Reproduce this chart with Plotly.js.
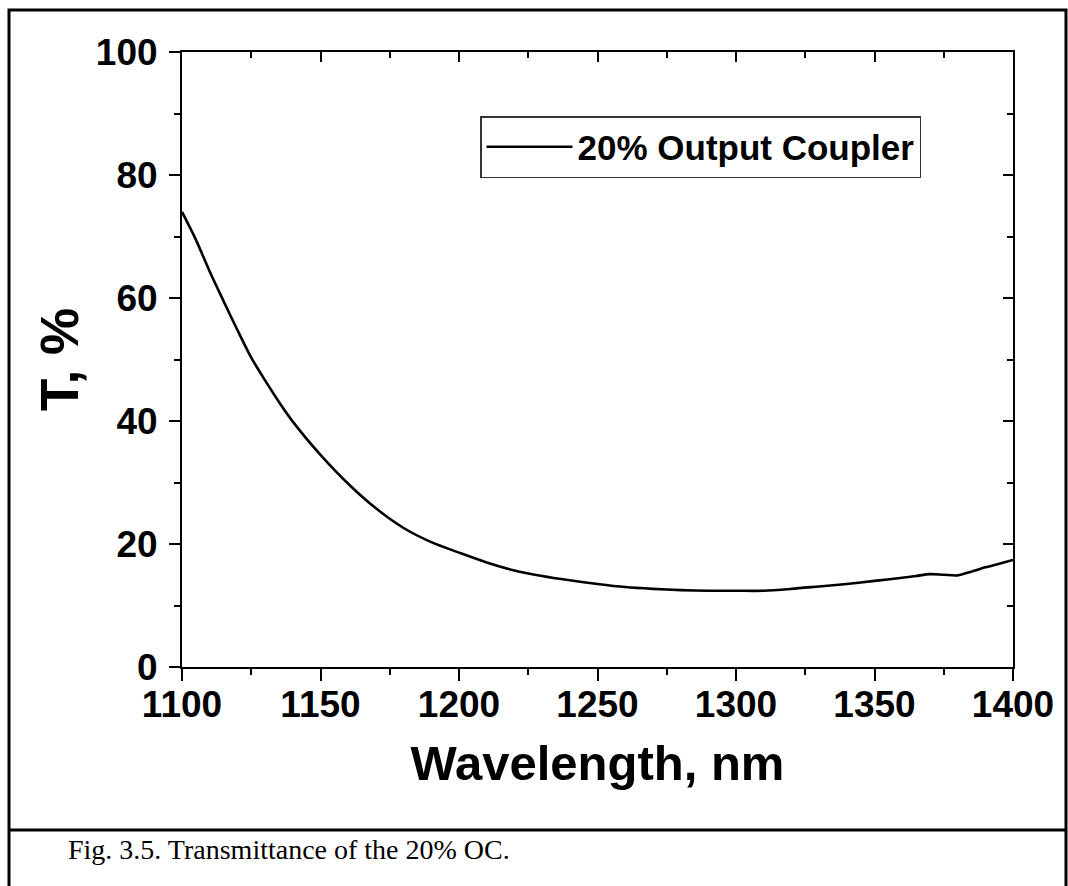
<!DOCTYPE html>
<html>
<head>
<meta charset="utf-8">
<script src="https://cdn.plot.ly/plotly-3.0.1.min.js"></script>
<style>
html,body{margin:0;padding:0;background:#fff;}
#chart{width:1068px;height:886px;}
</style>
</head>
<body>
<div id="chart"></div>
<script>
// Data
const wavelength = [1100,1105,1110,1115,1120,1125,1130,1135,1140,1150,1160,1170,1180,1190,1200,1210,1220,1230,1240,1250,1260,1270,1280,1290,1300,1310,1320,1330,1340,1350,1360,1365,1370,1375,1380,1385,1390,1395,1400];
const transmittance = [74,69.5,64.3,59.5,54.8,50.3,46.6,43.1,39.9,34.5,29.8,25.8,22.6,20.3,18.6,17.0,15.7,14.8,14.1,13.5,13.0,12.7,12.5,12.4,12.4,12.4,12.7,13.1,13.5,14.0,14.5,14.8,15.1,15.0,14.9,15.5,16.2,16.8,17.4];
const seriesName = "20% Output Coupler";
const xTicks = [1100,1150,1200,1250,1300,1350,1400];
const yTicks = [0,20,40,60,80,100];
const xTitle = "Wavelength, nm";
const yTitle = "T, %";
const caption = "Fig. 3.5. Transmittance of the 20% OC.";

const L = 182, R = 1013, T = 52, B = 667;
const W = 1068, H = 886;
const pw = R - L, ph = B - T;
const px = v => (v - L) / pw;
const py = v => (B - v) / ph;

const boldFont = {family: "Liberation Sans, Arial, sans-serif", color: "#000", weight: 700};

const traces = [
  {x: wavelength, y: transmittance, type: "scatter", mode: "lines", name: seriesName,
   line: {color: "#000", width: 2.6, shape: "spline", smoothing: 0.8}, xaxis: "x", yaxis: "y"},
  {x: [], y: [], type: "scatter", mode: "lines", showlegend: false, hoverinfo: "skip",
   xaxis: "x2", yaxis: "y2"}
];

const layout = {
  width: W, height: H,
  margin: {l: L, r: W - R, t: T, b: H - B, pad: 0},
  paper_bgcolor: "#fff", plot_bgcolor: "#fff",
  showlegend: true,
  xaxis: {
    range: [1100, 1400], tickvals: xTicks, ticktext: xTicks.map(String),
    ticks: "outside", ticklen: 12, tickwidth: 2, tickcolor: "#000",
    minor: {dtick: 25, tick0: 1100, ticks: "outside", ticklen: 6, tickwidth: 2, tickcolor: "#000"},
    showline: true, linewidth: 2, linecolor: "#000", mirror: true,
    showgrid: false, zeroline: false, ticklabelstandoff: -8,
    tickfont: Object.assign({size: 37}, boldFont),
    title: {text: xTitle, font: Object.assign({size: 49}, boldFont), standoff: 21}
  },
  yaxis: {
    range: [0, 100], tickvals: yTicks, ticktext: yTicks.map(String),
    ticks: "outside", ticklen: 11, tickwidth: 2, tickcolor: "#000",
    minor: {dtick: 10, tick0: 0, ticks: "outside", ticklen: 6, tickwidth: 2, tickcolor: "#000"},
    showline: true, linewidth: 2, linecolor: "#000", mirror: true,
    showgrid: false, zeroline: false, ticklabelstandoff: 4,
    tickfont: Object.assign({size: 37}, boldFont),
    title: {text: yTitle, font: Object.assign({size: 53}, boldFont), standoff: 0}
  },
  xaxis2: {
    overlaying: "x", side: "top", anchor: "y2", range: [1100, 1400], tickvals: xTicks,
    ticks: "inside", ticklen: 10, tickwidth: 2, tickcolor: "#000",
    minor: {dtick: 25, tick0: 1100, ticks: "inside", ticklen: 6, tickwidth: 2, tickcolor: "#000"},
    showticklabels: false, showline: false, showgrid: false, zeroline: false
  },
  yaxis2: {
    overlaying: "y", side: "right", anchor: "x2", range: [0, 100], tickvals: yTicks,
    ticks: "inside", ticklen: 10, tickwidth: 2, tickcolor: "#000",
    minor: {dtick: 10, tick0: 0, ticks: "inside", ticklen: 6, tickwidth: 2, tickcolor: "#000"},
    showticklabels: false, showline: false, showgrid: false, zeroline: false
  },
  legend: {
    x: px(480), y: py(116), xanchor: "left", yanchor: "top",
    bgcolor: "#fff", bordercolor: "#333", borderwidth: 1.5,
    font: Object.assign({size: 35}, boldFont),
    itemwidth: 86, tracegroupgap: 0
  },
  shapes: [
    {type: "rect", xref: "paper", yref: "paper", x0: px(9), x1: px(1066), y0: py(890), y1: py(10),
     line: {color: "#000", width: 3}, fillcolor: "rgba(0,0,0,0)", layer: "above"},
    {type: "line", xref: "paper", yref: "paper", x0: px(9), x1: px(1066), y0: py(830), y1: py(830),
     line: {color: "#000", width: 3}, layer: "above"}
  ],
  annotations: [
    {text: caption, xref: "paper", yref: "paper", x: px(66), y: py(849), xanchor: "left", yanchor: "middle",
     showarrow: false, font: {family: "Liberation Serif, Times New Roman, serif", size: 28, color: "#000"}}
  ]
};

Plotly.newPlot("chart", traces, layout, {displayModeBar: false, staticPlot: true});
</script>
</body>
</html>
